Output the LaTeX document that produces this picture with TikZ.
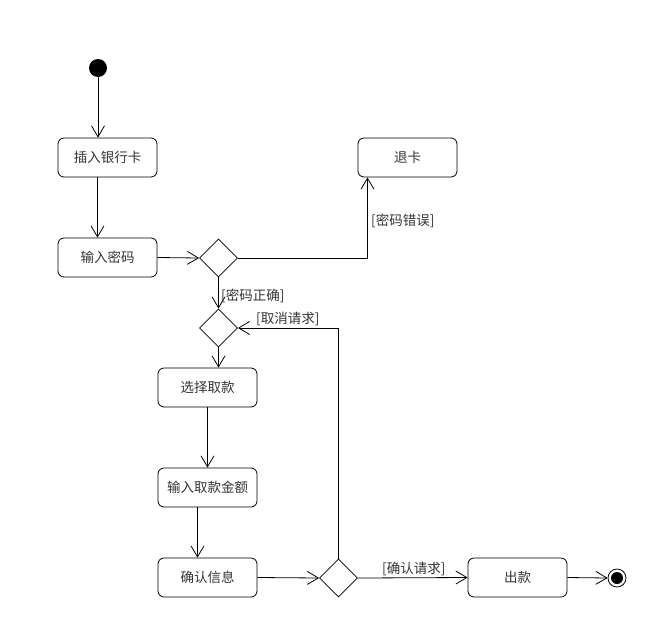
\documentclass[tikz,border=0pt]{standalone}
\usepackage{fontspec}
\setmainfont{Noto Sans CJK SC}
\usetikzlibrary{arrows.meta, shapes.geometric, positioning}

\begin{document}
\begin{tikzpicture}[x=1pt, y=-1pt,
                    my line/.style={line width=0.8pt},
                    my text/.style={text=black!80,
                      font=\fontsize{13.5}{15}\selectfont},
                    my action/.style={
                      my line, my text, draw, rounded corners=6pt,
                      minimum width=99pt, minimum height=39pt},
                    my decision/.style={
                      my line, draw, diamond, inner sep=0,
                      minimum width=38pt, minimum height=38pt},
                    my start/.style={
                      circle, fill=black, inner sep=0, minimum size=18pt},
                    my stop/.style={
                      my line, circle, draw, inner sep=0, minimum size=18pt,
                      path picture={\fill (path picture bounding box.center)
                        circle (6pt);}},
                    my arrow/.style={
                      my line, -{Straight Barb[length=11pt, width=13pt]}},
                    my guard/.style={my text, anchor=west, inner sep=0}]

\useasboundingbox (0,0) rectangle (650,632);

% noeuds
\node (start)    [my start]    at (98,68)     {};
\node (insert)   [my action]   at (107.5,157.5) {插入银行卡};
\node (password) [my action]   at (107.5,257.5) {输入密码};
\node (check)    [my decision] at (218.5,258) {};
\node (eject)    [my action]   at (407.5,157.5) {退卡};
\node (choose)   [my decision] at (218.5,328) {};
\node (select)   [my action]   at (207.5,387.5) {选择取款};
\node (amount)   [my action]   at (207.5,487.5) {输入取款金额};
\node (confirm)  [my action]   at (207.5,577.5) {确认信息};
\node (ask)      [my decision] at (338.5,578) {};
\node (dispense) [my action]   at (517.5,577.5) {出款};
\node (stop)     [my stop]     at (617,578)   {};

% transitions
\draw[my arrow] (start) -- (start |- insert.north);
\draw[my arrow] ([xshift=-10pt]insert.south) -- ([xshift=-10pt]password.north);
\draw[my arrow] (password.east) -- (check.west);
\draw[my arrow] (check.east) -| ([xshift=-40pt]eject.south);
\draw[my arrow] (check.south) -- (choose.north);
\draw[my arrow] (choose.south) -- (choose.south |- select.north);
\draw[my arrow] (select.south) -- (amount.north);
\draw[my arrow] ([xshift=-10pt]amount.south) -- ([xshift=-10pt]confirm.north);
\draw[my arrow] (confirm.east) -- (ask.west);
\draw[my arrow] (ask.north) |- (choose.east);
\draw[my arrow] (ask.east) -- (dispense.west);
\draw[my arrow] (dispense.east) -- (stop.west);

% gardes
\node (wrong)   [my guard] at (371,221) {[密码错误]};
\node (right)   [my guard] at (221,296) {[密码正确]};
\node (cancel)  [my guard] at (256,319) {[取消请求]};
\node (accept)  [my guard] at (382,569) {[确认请求]};
\end{tikzpicture}
\end{document}
